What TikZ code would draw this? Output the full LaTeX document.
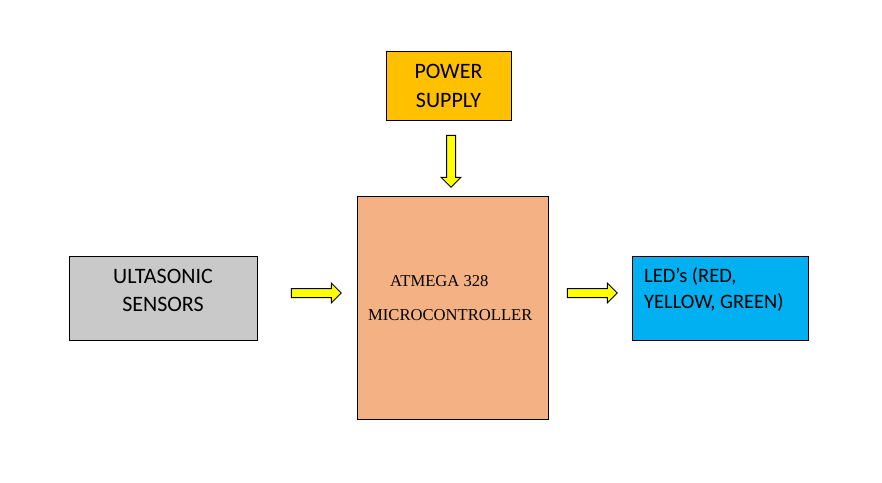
\documentclass[tikz,border=0pt]{standalone}
\usepackage{fontspec}
\setmainfont{Carlito}
\newfontfamily\timesfnt{Liberation Serif}
\usepackage{tikz}
\usetikzlibrary{positioning, shapes.arrows, calc}

\definecolor{pwrorange}{HTML}{FFC000}
\definecolor{mcupeach}{HTML}{F4B183}
\definecolor{sensgray}{HTML}{C9C9C9}
\definecolor{ledblue}{HTML}{00B0F0}
\definecolor{arrowyellow}{HTML}{FFFF00}

\begin{document}
\begin{tikzpicture}[x=1pt, y=1pt,
	box/.style={draw=black, line width=1pt, inner sep=0pt},
	lbl/.style={inner sep=0pt, font=\fontsize{22}{26}\selectfont},
	ledlbl/.style={inner sep=0pt, font=\fontsize{20.5}{24}\selectfont},
	mculbl/.style={inner sep=0pt, font=\timesfnt\fontsize{16.6}{20}\selectfont},
	yarrow/.style={single arrow, draw=black, fill=arrowyellow, line width=1pt,
		inner xsep=0pt, inner ysep=4pt, single arrow head extend=5.5pt}]
	\useasboundingbox (0,0) rectangle (882,-482);
	
	% blocks
	\node [box, fill=pwrorange, minimum width=125, minimum height=69] (pwr) at (448.5,-85.5) {};
	\node [box, fill=mcupeach, minimum width=191, minimum height=223] (mcu) at (452.5,-307.5) {};
	\node [box, fill=sensgray, minimum width=188, minimum height=84] (sensor) at (163,-298) {};
	\node [box, fill=ledblue, minimum width=176, minimum height=84] (led) at (720,-298) {};
	
	% texts
	\node [lbl, anchor=base] (pwr1) at (448.5,-78) {POWER};
	\node [lbl, anchor=base] (pwr2) at (448.5,-107) {SUPPLY};
	\node [lbl, anchor=base] (sens1) at (163,-283) {ULTASONIC};
	\node [lbl, anchor=base] (sens2) at (163,-311) {SENSORS};
	\node [mculbl, anchor=base west] (mcu1) at (390,-286.5) {ATMEGA 328};
	\node [mculbl, anchor=base west] (mcu2) at (368,-320.5) {MICROCONTROLLER};
	\node [ledlbl, anchor=base west] (led1) at (644,-282) {LED’s (RED,};
	\node [ledlbl, anchor=base west] (led2) at (644,-308) {YELLOW, GREEN)};
	
	% arrows
	\node [yarrow, minimum height=52, rotate=-90] (a1) at (451,-159) {};
	\node [yarrow, minimum height=50] (a2) at (314,-293) {};
	\node [yarrow, minimum height=50] (a3) at (590,-293) {};
\end{tikzpicture}
\end{document}
